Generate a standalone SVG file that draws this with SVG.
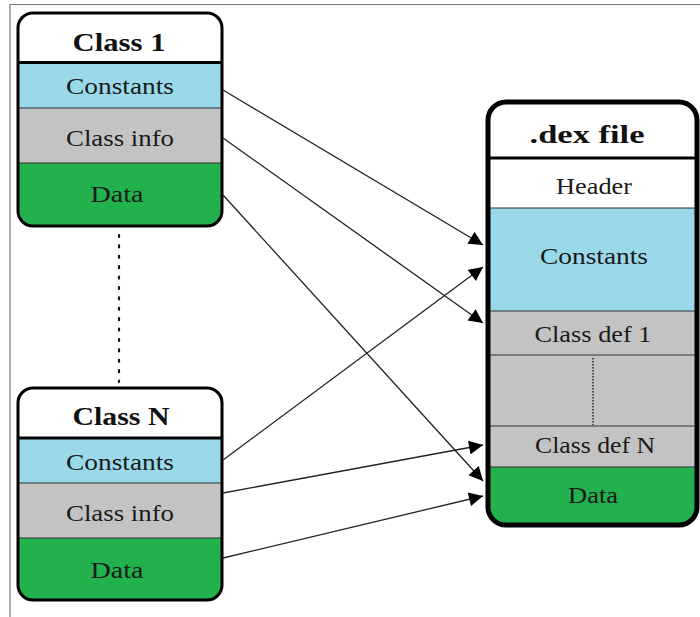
<svg xmlns="http://www.w3.org/2000/svg" width="700" height="617" viewBox="0 0 700 617">
  <style>
    .lbl { font-family: "Liberation Serif", "DejaVu Serif", serif; font-size: 23px; fill: #1a1a1a; text-anchor: middle; }
    .ttl { font-family: "Liberation Serif", "DejaVu Serif", serif; font-size: 26px; font-weight: bold; fill: #111; text-anchor: middle; }
    .blue { fill: #99D9EA; }
    .grey { fill: #C3C3C3; }
    .green { fill: #22B14C; }
    .white { fill: #FFFFFF; }
    .sep { stroke: #333; stroke-width: 1.2; }
    .hsep { stroke: #000; stroke-width: 3; }
    .outline { fill: none; stroke: #000; }
    .conn { stroke: #222; stroke-width: 1.3; fill: none; marker-end: url(#arrow); }
  </style>
  <defs>
    <marker id="arrow" viewBox="0 0 10 10" refX="10" refY="5" markerWidth="15" markerHeight="14" markerUnits="userSpaceOnUse" orient="auto">
      <path d="M0,0 L10,5 L0,10 z" fill="#000"/>
    </marker>
    <clipPath id="clip1"><rect x="18" y="13" width="204" height="213" rx="15"/></clipPath>
    <clipPath id="clipN"><rect x="18" y="388" width="204" height="212" rx="15"/></clipPath>
    <clipPath id="clipDex"><rect x="487" y="101" width="211" height="425" rx="18"/></clipPath>
  </defs>

  <!-- page frame -->
  <path d="M10,617 L10,4.5 L700,4.5" fill="none" stroke="#777" stroke-width="1.2"/>

  <!-- first class -->
  <g id="class1">
    <g clip-path="url(#clip1)">
      <rect class="white" x="18" y="13" width="204" height="50"/>
      <rect class="blue" x="18" y="63" width="204" height="45"/>
      <rect class="grey" x="18" y="108" width="204" height="55"/>
      <rect class="green" x="18" y="163" width="204" height="63"/>
    </g>
    <line class="hsep" x1="18" y1="62.5" x2="222" y2="62.5"/>
    <line class="sep" x1="18" y1="108" x2="222" y2="108"/>
    <line class="sep" x1="18" y1="163" x2="222" y2="163"/>
    <rect class="outline" x="18" y="13" width="204" height="213" rx="15" stroke-width="3"/>
    <text class="ttl" x="119" y="51" textLength="93" lengthAdjust="spacingAndGlyphs">Class 1</text>
    <text class="lbl" x="120" y="94" textLength="108" lengthAdjust="spacingAndGlyphs">Constants</text>
    <text class="lbl" x="120" y="146" textLength="108" lengthAdjust="spacingAndGlyphs">Class info</text>
    <text class="lbl" x="117" y="202" textLength="53" lengthAdjust="spacingAndGlyphs">Data</text>
  </g>

  <!-- gap marker between classes -->
  <line x1="119" y1="235" x2="119" y2="382" stroke="#111" stroke-width="2.2" stroke-dasharray="2,8.4" stroke-linecap="round"/>

  <!-- last class -->
  <g id="classN">
    <g clip-path="url(#clipN)">
      <rect class="white" x="18" y="388" width="204" height="50"/>
      <rect class="blue" x="18" y="438" width="204" height="45"/>
      <rect class="grey" x="18" y="483" width="204" height="55"/>
      <rect class="green" x="18" y="538" width="204" height="62"/>
    </g>
    <line class="hsep" x1="18" y1="438" x2="222" y2="438"/>
    <line class="sep" x1="18" y1="483" x2="222" y2="483"/>
    <line class="sep" x1="18" y1="538" x2="222" y2="538"/>
    <rect class="outline" x="18" y="388" width="204" height="212" rx="15" stroke-width="3"/>
    <text class="ttl" x="121" y="425" textLength="97" lengthAdjust="spacingAndGlyphs">Class N</text>
    <text class="lbl" x="120" y="470" textLength="108" lengthAdjust="spacingAndGlyphs">Constants</text>
    <text class="lbl" x="120" y="521" textLength="108" lengthAdjust="spacingAndGlyphs">Class info</text>
    <text class="lbl" x="117" y="578" textLength="53" lengthAdjust="spacingAndGlyphs">Data</text>
  </g>

  <!-- dex file -->
  <g id="dex">
    <g clip-path="url(#clipDex)">
      <rect class="white" x="487" y="101" width="211" height="57"/>
      <rect class="white" x="487" y="158" width="211" height="50"/>
      <rect class="blue" x="487" y="208" width="211" height="103"/>
      <rect class="grey" x="487" y="311" width="211" height="156"/>
      <rect class="green" x="487" y="467" width="211" height="59"/>
    </g>
    <line class="hsep" x1="487" y1="158" x2="698" y2="158"/>
    <line class="sep" x1="487" y1="208" x2="698" y2="208"/>
    <line class="sep" x1="487" y1="311" x2="698" y2="311"/>
    <line class="sep" x1="487" y1="355" x2="698" y2="355"/>
    <line class="sep" x1="487" y1="426" x2="698" y2="426"/>
    <line class="sep" x1="487" y1="467" x2="698" y2="467"/>
    <line x1="593" y1="358" x2="593" y2="425" stroke="#111" stroke-width="1.3" stroke-dasharray="1.5,1.5"/>
    <rect class="outline" x="488" y="102" width="209" height="423" rx="18" stroke-width="5"/>
    <text class="ttl" x="587" y="143" font-size="27" textLength="115" lengthAdjust="spacingAndGlyphs">.dex file</text>
    <text class="lbl" x="594" y="194" textLength="76" lengthAdjust="spacingAndGlyphs">Header</text>
    <text class="lbl" x="594" y="264" textLength="108" lengthAdjust="spacingAndGlyphs">Constants</text>
    <text class="lbl" x="593" y="342" textLength="117" lengthAdjust="spacingAndGlyphs">Class def 1</text>
    <text class="lbl" x="595" y="453" textLength="120" lengthAdjust="spacingAndGlyphs">Class def N</text>
    <text class="lbl" x="593" y="503" textLength="50" lengthAdjust="spacingAndGlyphs">Data</text>
  </g>

  <!-- connectors -->
  <g id="connectors">
    <line class="conn" x1="223" y1="90" x2="483" y2="245"/>
    <line class="conn" x1="223" y1="138" x2="483" y2="323"/>
    <line class="conn" x1="223" y1="195" x2="483" y2="481"/>
    <line class="conn" x1="223" y1="460" x2="483" y2="267"/>
    <line class="conn" x1="223" y1="493" x2="483" y2="445"/>
    <line class="conn" x1="223" y1="558" x2="483" y2="496"/>
  </g>
</svg>
